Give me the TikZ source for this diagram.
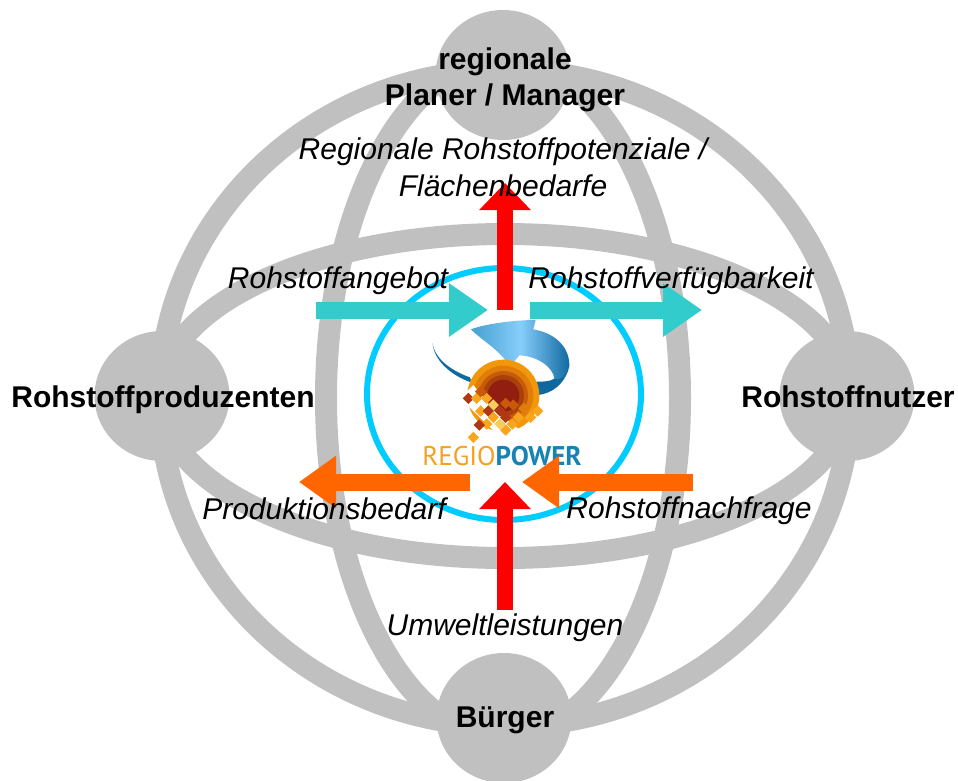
\documentclass[tikz,border=0pt]{standalone}
\usepackage{fontspec}
\setmainfont{Liberation Sans}
\newfontfamily\logofont{PT Sans}
\usetikzlibrary{arrows.meta,shadings,shapes.geometric}
\definecolor{ringgrey}{RGB}{192,192,192}
\definecolor{teal1}{RGB}{51,204,204}
\definecolor{orange1}{RGB}{255,102,0}
\definecolor{ringcyan}{RGB}{0,204,255}
\definecolor{logoorange}{RGB}{248,160,30}
\definecolor{logoblue}{RGB}{25,130,180}
\definecolor{bluedark}{RGB}{15,105,160}
\definecolor{bluelight}{RGB}{135,205,250}
\definecolor{sq1}{RGB}{250,165,30}
\definecolor{sq2}{RGB}{175,55,20}
\definecolor{sq3}{RGB}{245,205,90}
\definecolor{sun1}{RGB}{242,150,10}
\definecolor{sun2}{RGB}{225,125,10}
\definecolor{sun3}{RGB}{200,90,10}
\definecolor{sun4}{RGB}{170,65,10}
\definecolor{sun5}{RGB}{145,30,15}
\tikzset{
  x=1pt,y=-1pt,
  ring/.style={draw=ringgrey,line width=22pt},
  hub/.style={ellipse,fill=ringgrey,minimum width=135pt,minimum height=130pt,inner sep=0pt},
  tealarrow/.style={-{Triangle[length=39pt,width=51pt]},line width=17pt,draw=teal1},
  orangearrow/.style={-{Triangle[length=37pt,width=50pt]},line width=17pt,draw=orange1},
  redarrow/.style={-{Triangle[length=27pt,width=50pt]},line width=16pt,draw=red},
  hublabel/.style={font=\bfseries\fontsize{30}{36}\selectfont,align=center,text=black,inner sep=0pt},
  flow/.style={font=\itshape\fontsize{30}{37}\selectfont,align=center,text=black,inner sep=0pt}
}
\newcommand{\dia}[3]{\fill[#3] (#1-17,#2) -- (#1,#2-17) -- (#1+17,#2) -- (#1,#2+17) -- cycle;}
\begin{document}
\begin{tikzpicture}
\useasboundingbox (0,0) rectangle (958,780);
\draw[ring] (505,398) ellipse [x radius=345,y radius=328];
\draw[ring] (505,396) ellipse [x radius=345,y radius=162];
\draw[ring] (503,398) ellipse [x radius=177,y radius=340];
\node[hub] (top) at (503,75) {};
\node[hub] (bottom) at (504,718) {};
\node[hub] (left) at (162,396) {};
\node[hub] (right) at (847,396) {};
\draw[ringcyan,line width=6pt,fill=white] (504,394) ellipse [x radius=137,y radius=126];
% logo, drawn in the coordinates of a 3x view
\begin{scope}[shift={(360,270)},scale=1/3]
\fill[bluedark] (218,220) .. controls (222,270) and (270,315) .. (335,338) -- (330,322) .. controls (280,305) and (225,270) .. (218,220) -- cycle;
\fill[bluedark] (535,375) .. controls (575,370) and (610,345) .. (625,300) -- (585,325) .. controls (570,335) and (550,335) .. (530,335) -- cycle;
\shade[left color=logoblue!60!bluelight,right color=bluedark,middle color=bluelight]
  (333,178) .. controls (380,160) and (470,150) .. (527,150) -- (520,178)
  .. controls (590,190) and (630,235) .. (628,290)
  .. controls (620,320) and (600,330) .. (583,327)
  .. controls (580,290) and (530,258) .. (478,256)
  -- (450,290) .. controls (420,240) and (370,215) .. (333,178) -- cycle;
\fill[sun1] (430,377) circle (108);
\fill[sun2] (430,377) circle (90);
\fill[sun3] (430,377) circle (74);
\fill[sun4] (430,377) circle (62);
\fill[sun5] (430,377) circle (48);
\fill[white] (300,385) -- (440,520) -- (540,440) -- (480,480) -- (400,420) -- (340,345) -- cycle;
\dia{325}{385}{sq2}\dia{350}{385}{sq1}\dia{362}{365}{sun3}\dia{380}{385}{sq1}
\dia{400}{405}{sq3}\dia{437}{400}{sun3}\dia{362}{423}{sq1}\dia{385}{423}{sq2}
\dia{420}{423}{sq2}\dia{460}{405}{sun3}\dia{492}{415}{sun2}\dia{533}{423}{sq1}
\dia{400}{442}{sq1}\dia{437}{442}{sq2}\dia{475}{442}{sq1}\dia{512}{442}{sq1}
\dia{380}{462}{sq1}\dia{358}{465}{sq2}\dia{420}{462}{sq3}\dia{457}{462}{sq1}
\dia{437}{480}{sq1}\dia{340}{502}{sq1}
\end{scope}
\node[inner sep=0pt,font=\logofont\fontsize{27}{30}\selectfont] (logotext) at (502,456)
  {\textcolor{logoorange}{REGIO}\textcolor{logoblue}{\bfseries POWER}};
% arrows
\coordinate (a1s) at (316,310); \coordinate (a1e) at (488,310);
\coordinate (a2s) at (530,310); \coordinate (a2e) at (702,310);
\coordinate (a3s) at (470,482); \coordinate (a3e) at (299,482);
\coordinate (a4s) at (693,482); \coordinate (a4e) at (522,482);
\coordinate (a5s) at (505,310); \coordinate (a5e) at (505,183);
\coordinate (a6s) at (505,610); \coordinate (a6e) at (505,482);
\draw[tealarrow] (a1s) -- (a1e);
\draw[tealarrow] (a2s) -- (a2e);
\draw[orangearrow] (a3s) -- (a3e);
\draw[orangearrow] (a4s) -- (a4e);
\draw[redarrow] (a5s) -- (a5e);
\draw[redarrow] (a6s) -- (a6e);
% labels
\node[hublabel] (ltop) at (505,80) {regionale\\Planer / Manager};
\node[hublabel,anchor=base] (lbottom) at (505,727) {Bürger};
\node[hublabel,anchor=base] (lleft) at (163,407) {Rohstoffproduzenten};
\node[hublabel,anchor=base] (lright) at (848,407) {Rohstoffnutzer};
\node[flow] (f1) at (503,167) {Regionale Rohstoffpotenziale /\\Flächenbedarfe};
\node[flow,anchor=base] (f2) at (338,288) {Rohstoffangebot};
\node[flow,anchor=base] (f3) at (671,288) {Rohstoffverfügbarkeit};
\node[flow,anchor=base] (f4) at (324,519) {Produktionsbedarf};
\node[flow,anchor=base] (f5) at (689,518) {Rohstoffnachfrage};
\node[flow,anchor=base] (f6) at (505,635) {Umweltleistungen};
\end{tikzpicture}
\end{document}
